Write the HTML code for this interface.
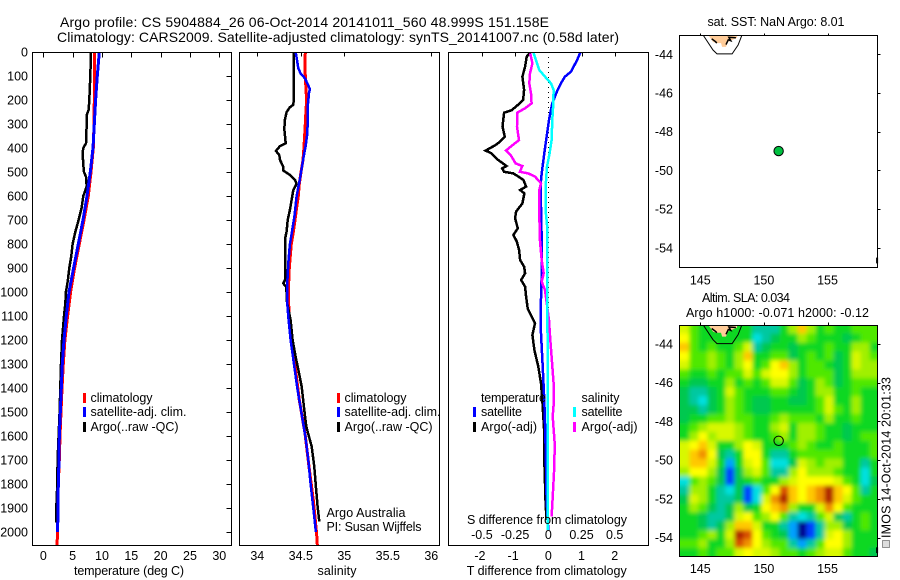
<!DOCTYPE html>
<html lang="en">
<head>
<meta charset="utf-8">
<title>Argo profile 5904884_26</title>
<style>
html,body{margin:0;padding:0;background:#fff;width:900px;height:580px;overflow:hidden}
svg{display:block}
text{font-family:"Liberation Sans",sans-serif;font-size:12.5px;fill:#000}
.ttl{font-size:14px}
</style>
</head>
<body>
<svg id="chart" xmlns="http://www.w3.org/2000/svg" width="900" height="580" viewBox="0 0 900 580">
  <defs>
    <clipPath id="clip-t"><rect x="32" y="52" width="199" height="493"/></clipPath>
    <clipPath id="clip-s"><rect x="240" y="52" width="200" height="493"/></clipPath>
    <clipPath id="clip-d"><rect x="449" y="52" width="200" height="493"/></clipPath>
    <clipPath id="clip-m1"><rect x="680" y="35" width="197" height="232"/></clipPath>
    <clipPath id="clip-m2"><rect x="680" y="325" width="197" height="231"/></clipPath>
    <filter id="smooth" x="-10%" y="-10%" width="120%" height="120%"><feGaussianBlur stdDeviation="2.1"/></filter>
  </defs>

  <text class="ttl" x="60" y="27" textLength="489">Argo profile: CS 5904884_26 06-Oct-2014 20141011_560 48.999S 151.158E</text>
  <text class="ttl" x="57" y="42" textLength="562">Climatology: CARS2009. Satellite-adjusted climatology: synTS_20141007.nc (0.58d later)</text>

  <g id="heat"></g>
  <g id="marks"></g>

  <rect x="32.5" y="52.5" width="199" height="493" fill="none" stroke="#000" shape-rendering="crispEdges"/>
  <rect x="239.5" y="52.5" width="200" height="493" fill="none" stroke="#000" shape-rendering="crispEdges"/>
  <rect x="448.5" y="52.5" width="200" height="493" fill="none" stroke="#000" shape-rendering="crispEdges"/>
  <rect x="679.5" y="35.5" width="198" height="232" fill="none" stroke="#000" shape-rendering="crispEdges"/>
  <rect x="679.5" y="325.5" width="198" height="231" fill="none" stroke="#000" shape-rendering="crispEdges"/>

  <g id="ticks"></g>

  <text x="129" y="575" text-anchor="middle" textLength="110">temperature (deg C)</text>
  <text x="337" y="575" text-anchor="middle" textLength="39">salinity</text>
  <text x="546.7" y="575" text-anchor="middle" textLength="160">T difference from climatology</text>
  <text x="547" y="524" text-anchor="middle" textLength="160">S difference from climatology</text>

  <g>
    <rect x="83" y="393" width="3" height="10" fill="#f00"/>
    <rect x="83" y="407" width="3" height="10" fill="#00f"/>
    <rect x="83" y="422" width="3" height="10" fill="#000"/>
    <text x="90.5" y="402" textLength="62">climatology</text>
    <text x="90.5" y="416" textLength="96">satellite-adj. clim.</text>
    <text x="90.5" y="431" textLength="88">Argo(..raw -QC)</text>
  </g>
  <g>
    <rect x="337" y="393" width="3" height="10" fill="#f00"/>
    <rect x="337" y="407" width="3" height="10" fill="#00f"/>
    <rect x="337" y="422" width="3" height="10" fill="#000"/>
    <text x="344.5" y="402" textLength="62">climatology</text>
    <text x="344.5" y="416" textLength="96">satellite-adj. clim.</text>
    <text x="344.5" y="431" textLength="88">Argo(..raw -QC)</text>
  </g>
  <g>
    <text x="481" y="402" textLength="65">temperature</text>
    <text x="581.5" y="402" textLength="38">salinity</text>
    <rect x="473" y="407" width="3" height="10" fill="#00f"/>
    <rect x="473" y="422" width="3" height="10" fill="#000"/>
    <rect x="573" y="407" width="3" height="10" fill="#0ff"/>
    <rect x="573" y="422" width="3" height="10" fill="#f0f"/>
    <text x="481" y="416" textLength="41">satellite</text>
    <text x="481" y="431" textLength="56">Argo(-adj)</text>
    <text x="581.5" y="416" textLength="41">satellite</text>
    <text x="581.5" y="431" textLength="56">Argo(-adj)</text>
  </g>

  <text x="326.5" y="517" textLength="79">Argo Australia</text>
  <text x="326.5" y="531" textLength="95">PI: Susan Wijffels</text>

  <text x="707.5" y="26" textLength="137">sat. SST: NaN Argo: 8.01</text>
  <text x="702" y="302" textLength="88">Altim. SLA: 0.034</text>
  <text x="686" y="317" textLength="183">Argo h1000: -0.071 h2000: -0.12</text>

  <rect x="882.5" y="540.5" width="7" height="7" fill="#ddd" stroke="#333" stroke-dasharray="1 1" shape-rendering="crispEdges"/>
  <text transform="translate(890.5,538) rotate(-90)" textLength="161">IMOS 14-Oct-2014 20:01:33</text>
</svg>

<script>
/* ---------- depth ticks and axis labels ---------- */
const depthTicks = [0,100,200,300,400,500,600,700,800,900,1000,1100,1200,1300,1400,1500,1600,1700,1800,1900,2000];
const tempTicks = [0,5,10,15,20,25,30];
const salTicks = [34,34.5,35,35.5,36];
const salTopTicks = [34,34.5,35,36];
const diffTTicks = [-2,-1,0,1,2];
const diffSTicks = [-0.5,-0.25,0,0.25,0.5];
const diffSLabels = ['-0.5','-0.25','0','0.25','0.5'];
const lonTicks = [145,150,155];
const latTicks = [-44,-46,-48,-50,-52,-54];

/* ---------- temperature panel ---------- */
const tempClimDepth = [0,100,200,300,400,500,600,700,800,900,1000,1100,1200,1300,1400,1500,1600,1700,1800,1900,2000,2055];
const tempClimValues = [8.75,8.75,8.69,8.64,8.52,8.13,7.67,6.93,6.14,5.34,4.66,4.15,3.69,3.41,3.18,3.01,2.84,2.73,2.56,2.5,2.44,2.33];
const tempSatDepth = [0,100,200,300,400,500,600,700,800,900,1000,1100,1200,1300,1400,1500,1600,1700,1800,1900,2000];
const tempSatValues = [9.55,9.2,8.92,8.69,8.47,8.01,7.44,6.76,5.97,5.17,4.38,3.92,3.52,3.24,3.07,2.9,2.73,2.67,2.56,2.5,2.44];
const tempArgoDepth = [0,100,140,200,240,260,300,380,400,420,470,500,520,560,600,650,700,750,800,850,900,950,1000,1050,1100,1150,1200,1300,1400,1500,1600,1700,1800,1900,1960];
const tempArgoValues = [8.13,8.01,7.95,7.84,7.73,7.44,7.39,7.27,6.82,6.7,6.82,6.93,7.27,7.39,6.82,6.53,6.02,5.45,5.0,4.77,4.43,4.2,3.86,3.75,3.52,3.35,3.18,3.01,2.9,2.78,2.61,2.44,2.39,2.22,2.22];

/* ---------- salinity panel ---------- */
const salClimDepth = [0,50,100,150,200,250,300,350,400,450,500,550,600,650,700,750,800,900,1000,1089,1283,1450,1589,1728,1867,2006,2054];
const salClimValues = [34.552,34.548,34.552,34.559,34.567,34.559,34.552,34.544,34.536,34.525,34.502,34.483,34.471,34.452,34.433,34.414,34.391,34.368,34.356,34.364,34.425,34.483,34.548,34.594,34.644,34.682,34.69];
const salSatDepth = [0,33,68,89,110,130,155,170,220,300,350,390,430,480,530,600,680,740,800,880,960,1050,1117,1200,1280,1400,1500,1600,1700,1800,1900,2000];
const salSatValues = [34.44,34.456,34.471,34.498,34.548,34.575,34.605,34.594,34.582,34.579,34.571,34.556,34.536,34.513,34.49,34.452,34.429,34.402,34.375,34.356,34.345,34.345,34.36,34.383,34.414,34.46,34.506,34.552,34.586,34.613,34.644,34.674];
const salArgoDepth = [0,100,200,220,230,250,280,320,350,380,392,412,430,450,478,494,512,533,550,575,600,658,700,748,780,850,950,964,978,1005,1033,1117,1200,1269,1311,1394,1478,1561,1644,1728,1811,1894,1956];
const salArgoValues = [34.418,34.418,34.418,34.414,34.375,34.337,34.318,34.31,34.318,34.326,34.261,34.215,34.253,34.261,34.299,34.299,34.375,34.433,34.452,34.414,34.402,34.375,34.349,34.337,34.318,34.318,34.318,34.299,34.33,34.337,34.337,34.383,34.406,34.44,34.464,34.51,34.536,34.563,34.625,34.655,34.674,34.693,34.713];

/* ---------- difference panel ---------- */
const dTSatDepth = [0,33,82,103,131,158,214,283,353,422,506,547,644,783,922,1075,1172,1311,1450,1589,1728,1867,1992];
const dTSatValues = [0.97,0.87,0.68,0.5,0.38,0.28,0.12,0.02,-0.05,-0.12,-0.2,-0.23,-0.22,-0.2,-0.2,-0.23,-0.22,-0.17,-0.12,-0.09,-0.07,-0.05,0];
const dTArgoDepth = [0,19,61,103,158,200,221,242,253,311,353,374,388,411,422,450,475,485,499,506,533,561,575,589,631,665,693,735,762,790,825,867,894,922,950,978,1019,1068,1075,1131,1179,1242,1311,1381,1450,1589,1700,1797,1881,1950];
const dTArgoValues = [-0.52,-0.65,-0.7,-0.78,-0.73,-0.76,-0.92,-1.1,-1.33,-1.38,-1.31,-1.46,-1.59,-1.89,-1.71,-1.51,-1.26,-1.39,-1.33,-1.05,-0.75,-0.67,-0.85,-0.72,-0.78,-0.97,-1.0,-0.92,-1.05,-0.95,-0.88,-0.85,-0.73,-0.7,-0.82,-0.7,-0.67,-0.62,-0.6,-0.4,-0.48,-0.42,-0.3,-0.22,-0.18,-0.12,-0.12,-0.1,-0.08,-0.05];
const dSSatDepth = [0,33,75,103,131,158,214,283,367,422,478,561,672,728,922,1075,1200,1500,1800,1992];
const dSSatValues = [-0.113,-0.093,-0.068,-0.025,0.02,0.04,0.038,0.03,0.025,0.01,-0.01,-0.02,-0.018,-0.008,-0.008,-0.008,-0.005,-0.005,-0.003,-0.005];
const dSArgoDepth = [6,47,89,131,172,214,235,253,311,367,388,411,429,464,475,499,506,519,547,575,672,783,867,922,957,992,1117,1200,1269,1381,1450,1519,1631,1728,1839,1936];
const dSArgoValues = [-0.136,-0.12,-0.138,-0.143,-0.13,-0.126,-0.176,-0.234,-0.236,-0.221,-0.269,-0.319,-0.284,-0.246,-0.196,-0.214,-0.151,-0.1,-0.055,-0.068,-0.068,-0.063,-0.05,-0.035,-0.05,-0.025,0.005,0.015,0.025,0.04,0.043,0.033,0.048,0.045,0.035,0.025];

/* ---------- map data ---------- */
const argoLon = 151.158;
const argoLat = -48.999;
const landLon = [145.61,146.0,146.24,146.63,146.71,147.02,147.18,147.89,147.89];
const landLat = [-43,-43.36,-43.42,-43.42,-43.62,-43.62,-43.36,-43.15,-43];
const coastLon = [145.9,146.2,146.3];
const coastLat = [-43.2,-43.35,-43.42];
const coastEastLon = [147.02,147.2,147.4,147.25,147.8];
const coastEastLat = [-43.5,-43.25,-43.3,-43.12,-43.15];
const contourLon = [145.21,146.0,146.31,147.5,147.97,148.28];
const contourLat = [-43,-43.78,-43.98,-43.98,-43.52,-43];
const cornerLandLon = [158.9,158.9];
const cornerLandLat = [-54.5,-54.8];
const heatLonMin = 143.43;
const heatLonMax = 159.02;
const heatLatMax = -43;
const heatLatMin = -55;
/* SLA colour class per cell, north to south, west to east (0 = deepest low, 14 = highest) */
const slaLevels = [
[9,7,6,6,6,6,6,6,4,4,4,6,8,11,8,6,7,6,6,7,7,7],
[10,7,6,6,6,6,6,6,3,4,5,6,6,8,7,6,6,6,5,6,7,7],
[11,7,6,7,6,6,7,9,4,5,6,6,5,6,6,6,7,6,6,8,8,6],
[10,7,7,8,7,6,8,11,6,6,7,7,5,6,7,6,7,5,6,9,8,7],
[9,7,7,8,7,6,8,10,6,7,10,11,8,6,7,7,6,5,6,9,8,8],
[7,6,6,7,6,7,7,9,7,9,10,10,8,6,7,7,7,5,6,8,8,8],
[6,5,5,6,6,8,6,7,6,7,9,9,7,5,6,8,7,5,6,7,7,7],
[5,4,4,5,6,9,7,6,6,6,7,7,6,5,6,8,8,6,6,7,6,6],
[5,4,3,5,6,8,7,6,5,5,6,6,5,5,6,7,9,6,6,8,6,6],
[5,5,4,5,6,8,7,6,5,5,6,6,6,6,6,7,9,7,6,8,6,6],
[5,6,6,7,7,8,7,7,6,6,7,8,7,7,7,6,8,6,6,7,6,6],
[6,7,8,9,9,9,8,7,6,6,8,9,6,8,8,7,6,6,5,6,6,6],
[6,8,10,8,9,9,8,7,6,6,7,8,6,8,8,7,6,6,5,6,7,7],
[9,10,11,9,6,6,8,10,9,6,6,6,7,8,7,6,6,7,6,6,6,7],
[9,11,12,10,5,4,6,10,10,6,4,4,6,7,7,7,7,7,6,6,6,7],
[9,11,11,9,6,2,6,9,10,7,3,3,5,9,8,7,8,8,6,6,4,6],
[8,10,10,8,5,1,5,8,9,7,4,4,8,10,8,8,8,7,6,6,3,6],
[3,7,8,7,5,1,5,6,7,6,6,8,9,10,10,10,10,9,7,6,3,5],
[4,8,8,6,4,3,5,1,3,7,10,13,11,10,11,12,14,11,10,7,4,6],
[5,9,8,6,4,4,5,1,3,9,12,14,11,10,11,12,14,11,9,7,6,6],
[6,8,7,5,4,5,8,5,6,10,11,12,8,6,6,9,12,10,7,6,6,6],
[6,6,5,4,4,5,9,10,7,8,10,7,4,3,4,7,9,5,4,6,7,6],
[6,6,5,4,5,8,11,11,9,6,6,4,2,0,1,4,8,8,5,6,7,6],
[6,6,7,8,6,9,14,13,10,7,6,5,2,0,1,4,9,10,8,6,6,6],
[7,7,8,6,6,8,13,12,10,8,7,7,4,2,4,7,10,10,8,6,6,6],
[6,6,7,6,7,7,9,10,9,9,8,7,7,6,7,8,9,9,7,6,6,5]
];
const slaPalette = ['#00008c','#0040ff','#00a0ff','#00e0e0','#00c8a0','#00c850','#10d820','#50e800','#a0f000','#d8f800','#ffff00','#ffc800','#f09000','#d85000','#b02000'];

/* ---------- axis functions ---------- */
const yDepth = d => 52 + 0.24 * d;
const xTemp = t => 43.3 + 5.867 * t;
const xSal = s => 257.3 + 87 * (s - 34);
const xDiffT = t => 548.3 + 33.2 * t;
const xDiffS = s => 548.3 + 132.8 * s;
const xLon = lon => 700.3 + 12.72 * (lon - 145);
const yLatTop = lat => 54.3 + 19.36 * (-44 - lat);
const yLatBottom = lat => 344 + 19.36 * (-44 - lat);

const NS = 'http://www.w3.org/2000/svg';
const marks = document.getElementById('marks');
const tickLayer = document.getElementById('ticks');
const heatLayer = document.getElementById('heat');

function svgEl(tag, parent) {
  const el = document.createElementNS(NS, tag);
  parent.appendChild(el);
  return el;
}
function toPoints(xs, ys, fx, fy) {
  return xs.map((v, i) => fx(v).toFixed(1) + ',' + fy(ys[i]).toFixed(1)).join(' ');
}
function profile(values, depths, xFn, colour, width, clipId) {
  const el = svgEl('polyline', marks);
  el.setAttribute('points', values.map((v, i) => xFn(v).toFixed(1) + ',' + yDepth(depths[i]).toFixed(1)).join(' '));
  el.setAttribute('fill', 'none');
  el.setAttribute('stroke', colour);
  el.setAttribute('stroke-width', width);
  el.setAttribute('shape-rendering', 'crispEdges');
  el.setAttribute('clip-path', 'url(#' + clipId + ')');
  return el;
}
function tick(x1, y1, x2, y2) {
  const el = svgEl('line', tickLayer);
  el.setAttribute('x1', Math.round(x1) + 0.5);
  el.setAttribute('x2', Math.round(x2) + 0.5);
  el.setAttribute('y1', Math.round(y1) + 0.5);
  el.setAttribute('y2', Math.round(y2) + 0.5);
  el.setAttribute('stroke', '#000');
  el.setAttribute('shape-rendering', 'crispEdges');
  return el;
}
function label(str, x, y, anchor) {
  const el = svgEl('text', tickLayer);
  el.setAttribute('x', x);
  el.setAttribute('y', y);
  el.setAttribute('text-anchor', anchor);
  el.textContent = str;
  return el;
}

/* ---------- heat map ---------- */
const heatInner = svgEl('g', heatLayer);


heatInner.setAttribute('clip-path', 'url(#clip-m2)');
const heatBlur = svgEl('g', heatInner);
heatBlur.setAttribute('filter', 'url(#smooth)');
const nRows = slaLevels.length;
const nCols = slaLevels[0].length;
slaLevels.forEach((row, r) => {
  row.forEach((level, c) => {
    const lonA = heatLonMin + (heatLonMax - heatLonMin) * c / nCols;
    const lonB = heatLonMin + (heatLonMax - heatLonMin) * (c + 1) / nCols;
    const latA = heatLatMax + (heatLatMin - heatLatMax) * r / nRows;
    const latB = heatLatMax + (heatLatMin - heatLatMax) * (r + 1) / nRows;
    const x0 = xLon(lonA) - (c === 0 ? 20 : 0);
    const x1 = xLon(lonB) + (c === nCols - 1 ? 20 : 0.6);
    const y0 = yLatBottom(latA) - (r === 0 ? 20 : 0);
    const y1 = yLatBottom(latB) + (r === nRows - 1 ? 20 : 0.6);
    const cell = svgEl('rect', heatBlur);
    
    
    cell.setAttribute('x', x0);
    cell.setAttribute('y', y0);
    cell.setAttribute('width', x1 - x0);
    cell.setAttribute('height', y1 - y0);
    cell.setAttribute('fill', slaPalette[level]);
  });
});

/* ---------- temperature series ---------- */
const tClim = profile(tempClimValues, tempClimDepth, xTemp, '#f00', 3, 'clip-t');


const tArgo = profile(tempArgoValues, tempArgoDepth, xTemp, '#000', 2.5, 'clip-t');


const tSat = profile(tempSatValues, tempSatDepth, xTemp, '#00f', 3, 'clip-t');



/* ---------- salinity series ---------- */
const sClim = profile(salClimValues, salClimDepth, xSal, '#f00', 3, 'clip-s');


const sArgo = profile(salArgoValues, salArgoDepth, xSal, '#000', 2.5, 'clip-s');


const sSat = profile(salSatValues, salSatDepth, xSal, '#00f', 2.5, 'clip-s');



/* ---------- difference series ---------- */
const zeroLine = svgEl('line', marks);


zeroLine.setAttribute('x1', Math.round(xDiffT(0)) + 0.5);
zeroLine.setAttribute('x2', Math.round(xDiffT(0)) + 0.5);
zeroLine.setAttribute('y1', yDepth(0));
zeroLine.setAttribute('y2', yDepth(2000));
zeroLine.setAttribute('stroke', '#000');
zeroLine.setAttribute('stroke-dasharray', '1 4');
zeroLine.setAttribute('shape-rendering', 'crispEdges');
const dtArgo = profile(dTArgoValues, dTArgoDepth, xDiffT, '#000', 2.5, 'clip-d');


const dtSat = profile(dTSatValues, dTSatDepth, xDiffT, '#00f', 2.5, 'clip-d');


const dsArgo = profile(dSArgoValues, dSArgoDepth, xDiffS, '#f0f', 2.5, 'clip-d');


const dsSat = profile(dSSatValues, dSSatDepth, xDiffS, '#0ff', 2.5, 'clip-d');



/* ---------- map layers ---------- */
[[yLatTop, 'clip-m1'], [yLatBottom, 'clip-m2']].forEach(([yFn, clipId]) => {
  const land = svgEl('polygon', marks);
  
  
  land.setAttribute('points', toPoints(landLon, landLat, xLon, yFn));
  land.setAttribute('fill', '#ffcc99');
  land.setAttribute('clip-path', 'url(#' + clipId + ')');
  const contour = svgEl('polyline', marks);
  
  
  contour.setAttribute('points', toPoints(contourLon, contourLat, xLon, yFn));
  contour.setAttribute('fill', 'none');
  contour.setAttribute('stroke', '#000');
  contour.setAttribute('clip-path', 'url(#' + clipId + ')');
  const coastW = svgEl('polyline', marks);
  
  
  coastW.setAttribute('points', toPoints(coastLon, coastLat, xLon, yFn));
  coastW.setAttribute('fill', 'none');
  coastW.setAttribute('stroke', '#000');
  coastW.setAttribute('stroke-width', '1.5');
  coastW.setAttribute('clip-path', 'url(#' + clipId + ')');
  const coastE = svgEl('polyline', marks);
  
  
  coastE.setAttribute('points', toPoints(coastEastLon, coastEastLat, xLon, yFn));
  coastE.setAttribute('fill', 'none');
  coastE.setAttribute('stroke', '#000');
  coastE.setAttribute('stroke-width', '1.5');
  coastE.setAttribute('clip-path', 'url(#' + clipId + ')');
  const corner = svgEl('polyline', marks);
  
  
  corner.setAttribute('points', toPoints(cornerLandLon, cornerLandLat, xLon, yFn));
  corner.setAttribute('fill', 'none');
  corner.setAttribute('stroke', '#000');
  corner.setAttribute('stroke-width', '2');
});
const ring1 = svgEl('circle', marks);


ring1.setAttribute('cx', xLon(argoLon));
ring1.setAttribute('cy', yLatTop(argoLat));
ring1.setAttribute('r', 4.7);
ring1.setAttribute('fill', '#00c040');
ring1.setAttribute('stroke', '#000');
const ring2 = svgEl('circle', marks);


ring2.setAttribute('cx', xLon(argoLon));
ring2.setAttribute('cy', yLatBottom(argoLat));
ring2.setAttribute('r', 4.7);
ring2.setAttribute('fill', 'none');
ring2.setAttribute('stroke', '#000');

/* ---------- ticks and tick labels ---------- */
depthTicks.forEach(d => {
  const lab = label(String(d), 28, yDepth(d) + 4.5, 'end');
  
  
  const tk = tick(226, yDepth(d), 231, yDepth(d));
  
  
});
tempTicks.forEach(t => {
  const tk = tick(xTemp(t), 52, xTemp(t), 57);
  
  
  const lab = label(String(t), xTemp(t), 560, 'middle');
  
  
});
salTicks.forEach(s => {
  const lab = label(String(s), xSal(s), 560, 'middle');
  
  
});
salTopTicks.forEach(s => {
  const tk = tick(xSal(s), 52, xSal(s), 56);
  
  
});
diffTTicks.forEach(t => {
  if (t !== 0) {
    const tk = tick(xDiffT(t), 52, xDiffT(t), 56);
    
    
  }
  const lab = label(String(t), xDiffT(t) - (t < 0 ? 2 : 0), 560, 'middle');
  
  
});
diffSTicks.forEach((s, i) => {
  const lab = label(diffSLabels[i], xDiffS(s), 539, 'middle');
  
  
});
lonTicks.forEach(lon => {
  const t1 = tick(xLon(lon), 33, xLon(lon), 35);
  
  
  const l1 = label(String(lon), xLon(lon), 284.5, 'middle');
  
  
  const t2 = tick(xLon(lon), 322, xLon(lon), 325);
  
  
  const l2 = label(String(lon), xLon(lon), 573, 'middle');
  
  
});
latTicks.forEach(lat => {
  const t1 = tick(877, yLatTop(lat), 880, yLatTop(lat));
  
  
  const l1 = label(String(lat), 673, yLatTop(lat) + 4.5, 'end');
  
  
  const t2 = tick(877, yLatBottom(lat), 880, yLatBottom(lat));
  
  
  const l2 = label(String(lat), 673, yLatBottom(lat) + 4.5, 'end');
  
  
});
</script>
</body>
</html>
